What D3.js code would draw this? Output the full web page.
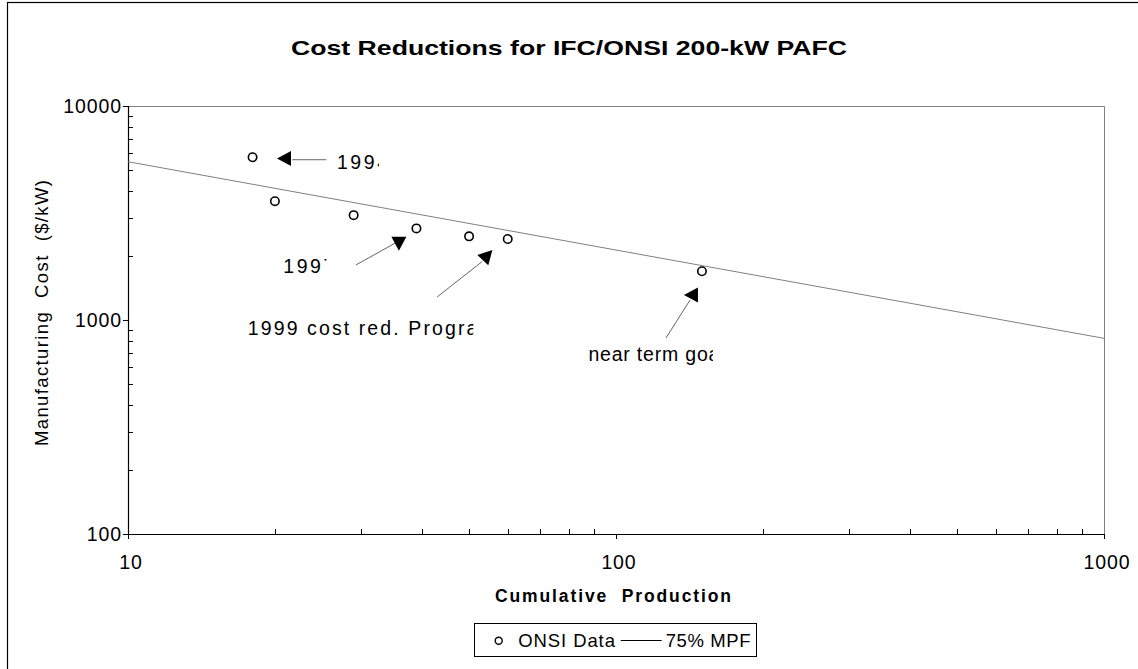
<!DOCTYPE html>
<html><head><meta charset="utf-8">
<script src="https://cdn.jsdelivr.net/npm/d3@7"></script>
<style>
body{margin:0;background:#fff}
svg{display:block}
text{font-family:"Liberation Sans",Arial,Helvetica,sans-serif;fill:#000}
</style></head>
<body><svg id="c" width="1138" height="669"></svg>
<script>
// ---- data ----
const production = [18, 20, 29, 39, 50, 60, 150];
const cost = [5760, 3590, 3090, 2680, 2460, 2390, 1690];
const mpfX = [10, 1000];
const mpfY = [5490, 821];
const xTickVals = [10, 100, 1000];
const yTickVals = [100, 1000, 10000];
const titleText = "Cost Reductions for IFC/ONSI 200-kW PAFC";
const xTitle = "Cumulative  Production";
const yTitle = "Manufacturing  Cost  ($/kW)";
const legendLabels = ["ONSI Data", "75% MPF"];
// annotations (data coordinates)
const annLabels = ["1994", "1997", "1999 cost red. Program", "near term goal"];
const annTextX = [26.8, 20.8, 17.6, 87.8];
const annTextY = [5080, 1650, 851, 645];
const annClipX = [32.7, 25.5, 51.0, 158];
const annTailX = [25.5, 29.3, 43.0, 126.6];
const annTailY = [5610, 1807, 1281, 824];
const annEndX = [21.7, 35.3, 53.2, 141.8];
const annEndY = [5610, 2290, 1877, 1240];
const annTipX = [20.2, 35.9, 55.8, 137.8];
const annTipY = [5680, 2107, 2124, 1309];
const annAngle = [180, 90, -47, 180];

// ---- layout / style ----
const L = 128, R = 1104, T = 106, B = 534;
const FS = 19.5, LS = 0.9;
const annLS = [2.6, 2.6, 2.1, 0.8];
const svg = d3.select("#c");

const x = d3.scaleLog().domain([10, 1000]).range([L, R]);
const y = d3.scaleLog().domain([100, 10000]).range([B, T]);

// outer border
svg.append("rect").attr("x", 7.5).attr("y", 2.5).attr("width", 1200).attr("height", 800)
  .attr("fill", "none").attr("stroke", "#000").attr("stroke-width", 1.2);

// title
svg.append("text").attr("x", 569).attr("y", 55).attr("text-anchor", "middle")
  .attr("font-weight", "bold").attr("font-size", 21).attr("textLength", 556)
  .attr("lengthAdjust", "spacingAndGlyphs").text(titleText);

// plot frame (gray top/right)
svg.append("path").attr("d", `M${L},${T+0.5}H${R+0.5}V${B}`).attr("fill", "none")
  .attr("stroke", "#808080").attr("stroke-width", 1);

// minor ticks
const xMinor = [];
for (let d = 10; d < 1000; d *= 10) for (let m = 2; m <= 9; m++) xMinor.push(d * m);
const yMinor = [];
for (let d = 100; d < 10000; d *= 10) for (let m = 2; m <= 9; m++) yMinor.push(d * m);

const g = svg.append("g");
g.selectAll(".xm").data(xMinor).join("line")
  .attr("x1", d => Math.round(x(d)) + 0.5).attr("x2", d => Math.round(x(d)) + 0.5)
  .attr("y1", B).attr("y2", B - 5).attr("stroke", "#000");
g.selectAll(".ym").data(yMinor).join("line")
  .attr("y1", d => Math.round(y(d)) + 0.5).attr("y2", d => Math.round(y(d)) + 0.5)
  .attr("x1", L).attr("x2", L + 5).attr("stroke", "#000");

// major ticks
g.selectAll(".xM").data(xTickVals).join("line")
  .attr("x1", d => Math.round(x(d)) + 0.5).attr("x2", d => Math.round(x(d)) + 0.5)
  .attr("y1", B).attr("y2", B + 5).attr("stroke", "#000");
g.selectAll(".yM").data(yTickVals).join("line")
  .attr("y1", d => Math.round(y(d)) + 0.5).attr("y2", d => Math.round(y(d)) + 0.5)
  .attr("x1", L - 5).attr("x2", L).attr("stroke", "#000");

// axis lines
svg.append("line").attr("x1", L + 0.5).attr("x2", L + 0.5).attr("y1", T).attr("y2", B + 0.5)
  .attr("stroke", "#000").attr("stroke-width", 1.2);
svg.append("line").attr("x1", L).attr("x2", R + 0.5).attr("y1", B + 0.5).attr("y2", B + 0.5)
  .attr("stroke", "#000").attr("stroke-width", 1.2);

// tick labels
g.selectAll(".xl").data(xTickVals).join("text")
  .attr("x", d => x(d) + 3).attr("y", 569).attr("text-anchor", "middle")
  .attr("font-size", FS).attr("letter-spacing", LS).text(d => d);
g.selectAll(".yl").data(yTickVals).join("text")
  .attr("x", 121 + LS).attr("y", d => y(d) + 7).attr("text-anchor", "end")
  .attr("font-size", FS).attr("letter-spacing", LS).text(d => d);

// axis titles
svg.append("text").attr("x", 613).attr("y", 602).attr("text-anchor", "middle")
  .attr("font-weight", "bold").attr("font-size", 17.5).style("white-space", "pre")
  .attr("textLength", 236).attr("lengthAdjust", "spacing").text(xTitle);
svg.append("text").attr("transform", "translate(48,313) rotate(-90)").attr("text-anchor", "middle")
  .attr("font-size", 18.5).style("white-space", "pre").attr("textLength", 266).attr("lengthAdjust", "spacing")
  .text(yTitle);

// 75% MPF line
const line = d3.line().x(d => x(d[0])).y(d => y(d[1]));
svg.append("path").datum(mpfX.map((v, i) => [v, mpfY[i]])).attr("d", line)
  .attr("fill", "none").attr("stroke", "#808080").attr("stroke-width", 1);

// data points
svg.selectAll(".pt").data(production).join("circle")
  .attr("cx", d => x(d)).attr("cy", (d, i) => y(cost[i])).attr("r", 4.2)
  .attr("fill", "#fff").attr("stroke", "#000").attr("stroke-width", 1.6);

// annotations
const defs = svg.append("defs");
annLabels.forEach((t, i) => {
  const tx = x(annTextX[i]), ty = y(annTextY[i]);
  defs.append("clipPath").attr("id", "clip" + i).append("rect")
    .attr("x", tx - 10).attr("y", ty - 30).attr("width", x(annClipX[i]) - tx + 10).attr("height", 45);
  svg.append("text").attr("x", tx).attr("y", ty).attr("font-size", FS).attr("letter-spacing", annLS[i])
    .attr("clip-path", `url(#clip${i})`).text(t);
  svg.append("line").attr("x1", x(annTailX[i])).attr("y1", y(annTailY[i]))
    .attr("x2", x(annEndX[i])).attr("y2", y(annEndY[i]))
    .attr("stroke", "#666").attr("stroke-width", 1);
  svg.append("polygon").attr("points", "0,0 -14,-7.5 -14,7.5")
    .attr("transform", `translate(${x(annTipX[i])},${y(annTipY[i])}) rotate(${annAngle[i]})`)
    .attr("fill", "#000");
});

// legend
const lg = svg.append("g");
lg.append("rect").attr("x", 474.5).attr("y", 623.5).attr("width", 282).attr("height", 33)
  .attr("fill", "#fff").attr("stroke", "#000").attr("stroke-width", 1);
lg.append("circle").attr("cx", 498.7).attr("cy", 640.7).attr("r", 3.5)
  .attr("fill", "#fff").attr("stroke", "#000").attr("stroke-width", 1.4);
lg.append("text").attr("x", 518.3).attr("y", 647).attr("font-size", 18.5).attr("letter-spacing", 0.9)
  .text(legendLabels[0]);
lg.append("line").attr("x1", 620.7).attr("x2", 661.7).attr("y1", 640.5).attr("y2", 640.5)
  .attr("stroke", "#000").attr("stroke-width", 1);
lg.append("text").attr("x", 665.7).attr("y", 647).attr("font-size", 18.5).attr("letter-spacing", 0.6)
  .text(legendLabels[1]);
</script></body></html>
